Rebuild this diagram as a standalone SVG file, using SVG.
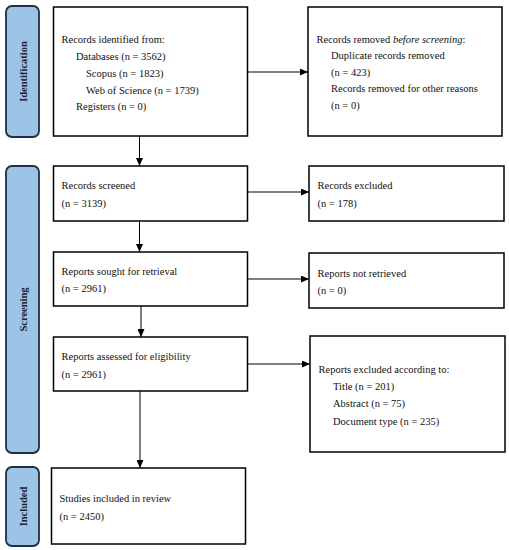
<svg xmlns="http://www.w3.org/2000/svg" width="509" height="550" viewBox="0 0 509 550">
<defs>
<marker id="ah" markerUnits="userSpaceOnUse" markerWidth="8" markerHeight="7" refX="8" refY="3.5" orient="auto">
<path d="M0,0 L8,3.5 L0,7 z" fill="#000"/>
</marker>
</defs>
<style>
.box{fill:#fff;stroke:#000;stroke-width:1.5}
.lab{fill:#9dc3e6;stroke:#1f2f45;stroke-width:1.8}
.t{font-family:"Liberation Serif","Times New Roman",serif;font-size:10.5px;fill:#111}
.lt{font-family:"Liberation Serif","Times New Roman",serif;font-size:10.5px;font-weight:bold;fill:#1a2433}
.c{fill:none;stroke:#000;stroke-width:1}
</style>
<rect width="509" height="550" fill="#fff"/>
<g id="label-identification">
<rect class="lab" x="6" y="6" width="33" height="131" rx="6"/>
<text class="lt" transform="translate(26.5,71.5) rotate(-90)" text-anchor="middle">Identification</text>
</g>
<g id="label-screening">
<rect class="lab" x="6" y="166" width="33" height="287" rx="6"/>
<text class="lt" transform="translate(26.5,309.5) rotate(-90)" text-anchor="middle">Screening</text>
</g>
<g id="label-included">
<rect class="lab" x="6" y="467" width="33" height="79" rx="6"/>
<text class="lt" transform="translate(26.5,506.5) rotate(-90)" text-anchor="middle">Included</text>
</g>
<g id="connectors">
<line class="c" x1="247.5" y1="72" x2="308" y2="72" marker-end="url(#ah)"/>
<line class="c" x1="139.5" y1="136" x2="139.5" y2="166" marker-end="url(#ah)"/>
<line class="c" x1="247.5" y1="192" x2="309" y2="192" marker-end="url(#ah)"/>
<line class="c" x1="139.5" y1="221" x2="139.5" y2="252" marker-end="url(#ah)"/>
<line class="c" x1="247.5" y1="279" x2="309" y2="279" marker-end="url(#ah)"/>
<line class="c" x1="141" y1="306" x2="141" y2="337" marker-end="url(#ah)"/>
<line class="c" x1="247.5" y1="364" x2="310" y2="364" marker-end="url(#ah)"/>
<line class="c" x1="140" y1="391" x2="140" y2="468" marker-end="url(#ah)"/>
</g>
<g id="records-identified">
<rect class="box" x="53.5" y="7" width="194" height="129"/>
<text class="t" x="61.5" y="43">Records identified from:</text>
<text class="t" x="76" y="60">Databases (n = 3562)</text>
<text class="t" x="86" y="77">Scopus (n = 1823)</text>
<text class="t" x="86" y="93.5">Web of Science (n = 1739)</text>
<text class="t" x="76" y="110">Registers (n = 0)</text>
</g>
<g id="records-removed">
<rect class="box" x="308" y="7" width="194" height="129"/>
<text class="t" x="316.5" y="42.5">Records removed <tspan font-style="italic">before screening</tspan>:</text>
<text class="t" x="331" y="59">Duplicate records removed</text>
<text class="t" x="331" y="75.5">(n = 423)</text>
<text class="t" x="331" y="92">Records removed for other reasons</text>
<text class="t" x="331" y="109">(n = 0)</text>
</g>
<g id="records-screened">
<rect class="box" x="53.5" y="166" width="194" height="55"/>
<text class="t" x="61.5" y="188.5">Records screened</text>
<text class="t" x="61.5" y="206.5">(n = 3139)</text>
</g>
<g id="records-excluded">
<rect class="box" x="309" y="166" width="195" height="55"/>
<text class="t" x="317.5" y="188.5">Records excluded</text>
<text class="t" x="317.5" y="206.5">(n = 178)</text>
</g>
<g id="reports-sought">
<rect class="box" x="53.5" y="252" width="194" height="54"/>
<text class="t" x="61.5" y="274.5">Reports sought for retrieval</text>
<text class="t" x="61.5" y="291.5">(n = 2961)</text>
</g>
<g id="reports-not-retrieved">
<rect class="box" x="309" y="253" width="195" height="55"/>
<text class="t" x="317.5" y="276.5">Reports not retrieved</text>
<text class="t" x="317.5" y="293.5">(n = 0)</text>
</g>
<g id="reports-assessed">
<rect class="box" x="53.5" y="337" width="194" height="54"/>
<text class="t" x="61.5" y="359.5">Reports assessed for eligibility</text>
<text class="t" x="61.5" y="377.5">(n = 2961)</text>
</g>
<g id="reports-excluded">
<rect class="box" x="310" y="336" width="195" height="116"/>
<text class="t" x="318.5" y="372.5">Reports excluded according to:</text>
<text class="t" x="333" y="389.5">Title (n = 201)</text>
<text class="t" x="333" y="406.5">Abstract (n = 75)</text>
<text class="t" x="333" y="424.5">Document type (n = 235)</text>
</g>
<g id="studies-included">
<rect class="box" x="51.5" y="468" width="194" height="76"/>
<text class="t" x="59.5" y="501.5">Studies included in review</text>
<text class="t" x="59.5" y="519.5">(n = 2450)</text>
</g>
</svg>
